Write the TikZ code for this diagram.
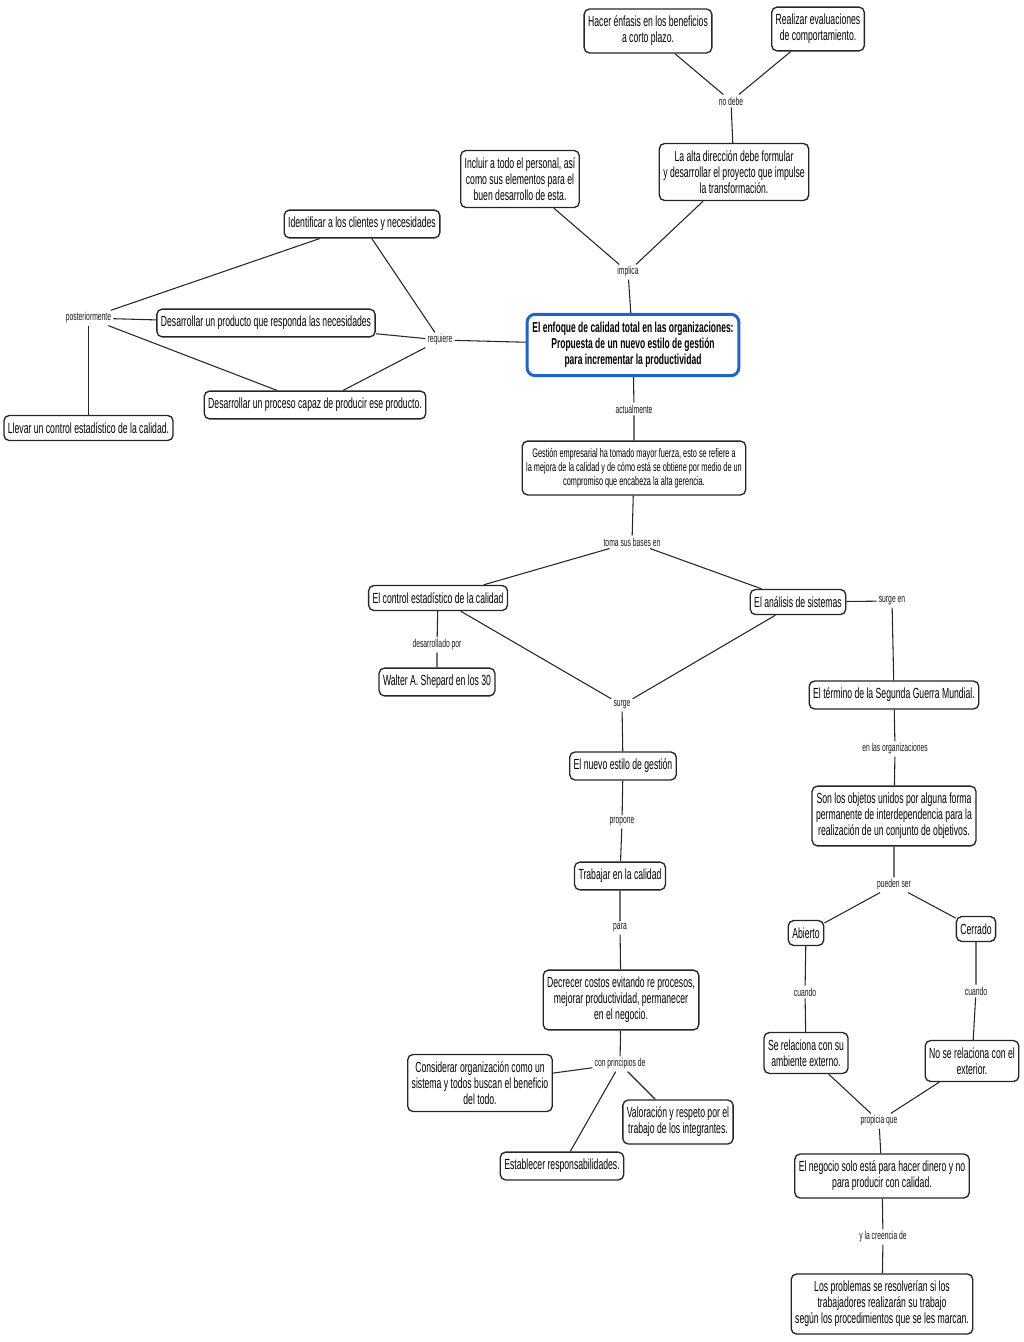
\documentclass[tikz,border=0pt]{standalone}
\usepackage{fontspec}
\setmainfont{Liberation Sans}[FakeStretch=0.59]
\usepackage{xcolor}
\usetikzlibrary{positioning}
\definecolor{temaazul}{RGB}{30,100,205}

\begin{document}
\begin{tikzpicture}[
  x=0.75pt, y=-0.75pt,
  concepto/.style={draw=black!85, line width=1pt, rounded corners=4pt, fill=white,
    align=center, inner xsep=3pt, inner ysep=5.3pt, font=\fontsize{11}{12}\selectfont},
  tema/.style={draw=temaazul, line width=2.2pt, rounded corners=6pt, fill=white,
    align=center, inner xsep=4pt, inner ysep=6pt, font=\fontsize{10.8}{12}\selectfont\bfseries},
  enlace/.style={inner sep=1.5pt, text=black!90, font=\fontsize{8.6}{10}\selectfont},
  linea/.style={draw=black!85, line width=0.8pt}
]
\useasboundingbox (0,0) rectangle (1024,1342);

% Tema central
\node[tema] (tema) at (633,345) {El enfoque de calidad total en las organizaciones:\\Propuesta de un nuevo estilo de gestión\\para incrementar la productividad};

% Rama superior
\node[concepto] (hacer) at (648,31) {Hacer énfasis en los beneficios\\a corto plazo.};
\node[concepto] (realizar) at (818,29) {Realizar evaluaciones\\de comportamiento.};
\node[enlace] (nodebe) at (731,101) {no debe};
\node[concepto] (alta) at (734,172) {La alta dirección debe formular\\y desarrollar el proyecto que impulse\\la transformación.};
\node[concepto] (incluir) at (520,179) {Incluir a todo el personal, así\\como sus elementos para el\\buen desarrollo de esta.};
\node[enlace] (implica) at (628,272) {implica};

% Rama izquierda
\node[concepto] (identificar) at (362,224) {Identificar a los clientes y necesidades};
\node[concepto] (desprod) at (266,323) {Desarrollar un producto que responda las necesidades};
\node[concepto] (desproc) at (315,405) {Desarrollar un proceso capaz de producir ese producto.};
\node[concepto] (llevar) at (88.5,428) {Llevar un control estadístico de la calidad.};
\node[enlace] (posterior) at (88.5,318) {posteriormente};
\node[enlace] (requiere) at (440,340) {requiere};

% Rama inferior
\node[enlace] (actual) at (634,409) {actualmente};
\node[concepto, font=\fontsize{9.3}{10.5}\selectfont] (gestion) at (634,468) {Gestión empresarial ha tomado mayor fuerza, esto se refiere a\\la mejora de la calidad y de cómo está se obtiene por medio de un\\compromiso que encabeza la alta gerencia.};
\node[enlace] (bases) at (632,542) {toma sus bases en};
\node[concepto] (control) at (438,598) {El control estadístico de la calidad};
\node[concepto] (analisis) at (798,602) {El análisis de sistemas};
\node[enlace] (desarrollado) at (437,645) {desarrollado por};
\node[concepto] (walter) at (437,682) {Walter A. Shepard en los 30};
\node[enlace] (surge) at (622,705) {surge};
\node[concepto] (nuevo) at (623,766) {El nuevo estilo de gestión};
\node[enlace] (propone) at (622,822) {propone};
\node[concepto] (trabajar) at (620,876) {Trabajar en la calidad};
\node[enlace] (para) at (620,928) {para};
\node[concepto] (decrecer) at (621,1000) {Decrecer costos evitando re procesos,\\mejorar productividad, permanecer\\en el negocio.};
\node[enlace] (principios) at (620,1064) {con principios de};
\node[concepto] (considerar) at (480,1083) {Considerar organización como un\\sistema y todos buscan el beneficio\\del todo.};
\node[concepto] (valoracion) at (678,1122) {Valoración y respeto por el\\trabajo de los integrantes.};
\node[concepto] (establecer) at (562,1166) {Establecer responsabilidades.};

% Rama derecha
\node[enlace] (surgeen) at (892,601) {surge en};
\node[concepto] (termino) at (894,695) {El término de la Segunda Guerra Mundial.};
\node[enlace] (organiz) at (895,749) {en las organizaciones};
\node[concepto] (objetos) at (894,816) {Son los objetos unidos por alguna forma\\permanente de interdependencia para la\\realización de un conjunto de objetivos.};
\node[enlace] (pueden) at (894,885) {pueden ser};
\node[concepto] (abierto) at (806,933) {Abierto};
\node[concepto] (cerrado) at (976,929) {Cerrado};
\node[enlace] (cuandoa) at (805,992) {cuando};
\node[enlace] (cuandob) at (976,991) {cuando};
\node[concepto] (serel) at (806,1053) {Se relaciona con su\\ambiente externo.};
\node[concepto] (nosere) at (972,1061) {No se relaciona con el\\exterior.};
\node[enlace] (propicia) at (879,1121) {propicia que};
\node[concepto] (negocio) at (882,1176) {El negocio solo está para hacer dinero y no\\para producir con calidad.};
\node[enlace] (creencia) at (883,1237) {y la creencia de};
\node[concepto] (problemas) at (882,1304) {Los problemas se resolverían si los\\trabajadores realizarán su trabajo\\según los procedimientos que se les marcan.};

% Conectores
\draw[linea] (hacer) -- (nodebe);
\draw[linea] (realizar) -- (nodebe);
\draw[linea] (nodebe) -- (alta);
\draw[linea] (incluir) -- (implica);
\draw[linea] (alta) -- (implica);
\draw[linea] (implica) -- (tema);
\draw[linea] (tema) -- (requiere);
\foreach \n in {identificar, desprod, desproc} {
  \draw[linea] (requiere) -- (\n);
  \draw[linea] (posterior) -- (\n);
}
\draw[linea] (posterior) -- (llevar);
\draw[linea] (tema) -- (actual) -- (gestion) -- (bases);
\draw[linea] (bases) -- (control);
\draw[linea] (bases) -- (analisis);
\draw[linea] (control) -- (desarrollado) -- (walter);
\draw[linea] (control) -- (surge);
\draw[linea] (analisis) -- (surge);
\draw[linea] (surge) -- (nuevo) -- (propone) -- (trabajar) -- (para) -- (decrecer) -- (principios);
\foreach \n in {considerar, valoracion, establecer}
  \draw[linea] (principios) -- (\n);
\draw[linea] (analisis) -- (surgeen) -- (termino) -- (organiz) -- (objetos) -- (pueden);
\draw[linea] (pueden) -- (abierto);
\draw[linea] (pueden) -- (cerrado);
\draw[linea] (abierto) -- (cuandoa) -- (serel);
\draw[linea] (cerrado) -- (cuandob) -- (nosere);
\draw[linea] (serel) -- (propicia);
\draw[linea] (nosere) -- (propicia);
\draw[linea] (propicia) -- (negocio) -- (creencia) -- (problemas);

\end{tikzpicture}
\end{document}
